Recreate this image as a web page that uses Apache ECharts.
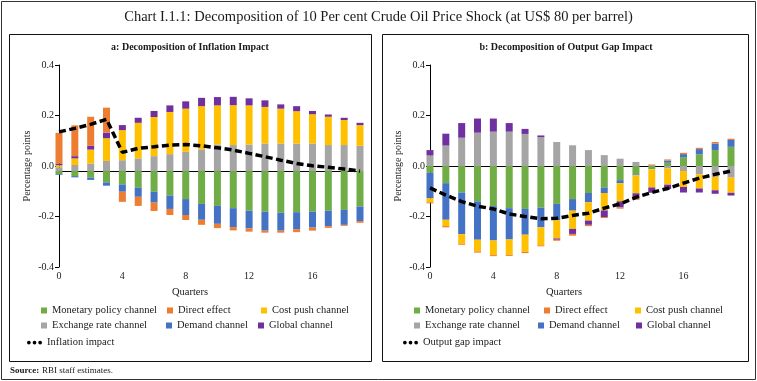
<!DOCTYPE html>
<html>
<head>
<meta charset="utf-8">
<script src="https://cdn.jsdelivr.net/npm/echarts@6/dist/echarts.min.js"></script>
<style>
html,body{margin:0;padding:0;background:#fff;}
#c{width:757px;height:381px;}
</style>
</head>
<body>
<div id="c"></div>
<script>
// ---------- DATA ----------
const quarters = ['0','1','2','3','4','5','6','7','8','9','10','11','12','13','14','15','16','17','18','19'];
const yTickValues = [-0.4, -0.2, 0.0, 0.2, 0.4];

// Panel a: inflation impact decomposition (percentage points)
const infMonetary = [-0.012,-0.02,-0.026,-0.045,-0.053,-0.066,-0.082,-0.097,-0.111,-0.13,-0.138,-0.147,-0.157,-0.161,-0.165,-0.163,-0.161,-0.157,-0.154,-0.141];
const infExchange = [0.015,0.024,0.03,0.04,0.043,0.05,0.059,0.067,0.076,0.086,0.105,0.103,0.105,0.109,0.109,0.109,0.109,0.103,0.103,0.1];
const infDemand   = [-0.003,-0.005,-0.009,-0.013,-0.029,-0.036,-0.043,-0.053,-0.063,-0.063,-0.071,-0.075,-0.07,-0.075,-0.071,-0.067,-0.063,-0.061,-0.059,-0.057];
const infCostPush = [0.008,0.026,0.055,0.09,0.119,0.141,0.155,0.167,0.171,0.171,0.155,0.158,0.155,0.145,0.138,0.128,0.116,0.112,0.099,0.082];
const infGlobal   = [0.007,0.009,0.015,0.022,0.02,0.02,0.024,0.026,0.029,0.033,0.033,0.033,0.028,0.026,0.017,0.02,0.013,0.009,0.009,0.009];
const infDirect   = [0.121,0.122,0.115,0.099,-0.04,-0.036,-0.033,-0.024,-0.02,-0.02,-0.017,-0.013,-0.013,-0.008,-0.008,-0.012,-0.012,-0.007,-0.004,-0.007];
const infTotal    = [0.155,0.169,0.185,0.205,0.074,0.09,0.096,0.103,0.105,0.1,0.092,0.083,0.07,0.057,0.043,0.03,0.021,0.015,0.008,0.0];

// Panel b: output gap impact decomposition (percentage points)
const gapMonetary = [-0.026,-0.068,-0.105,-0.14,-0.159,-0.167,-0.17,-0.165,-0.15,-0.131,-0.107,-0.085,-0.056,-0.033,-0.012,0.013,0.035,0.046,0.063,0.076];
const gapExchange = [0.042,0.081,0.112,0.132,0.136,0.136,0.127,0.114,0.095,0.082,0.063,0.043,0.029,0.016,-0.002,-0.01,-0.02,-0.033,-0.043,-0.046];
const gapDemand   = [-0.102,-0.145,-0.165,-0.152,-0.136,-0.124,-0.102,-0.078,-0.065,-0.046,-0.037,-0.022,-0.012,-0.004,0.002,0.008,0.012,0.021,0.026,0.027];
const gapCostPush = [-0.016,-0.025,-0.038,-0.046,-0.058,-0.061,-0.068,-0.071,-0.072,-0.072,-0.072,-0.069,-0.072,-0.071,-0.071,-0.064,-0.063,-0.056,-0.053,-0.06];
const gapGlobal   = [0.021,0.047,0.058,0.056,0.052,0.034,0.02,0.007,-0.005,-0.02,-0.017,-0.026,-0.024,-0.021,-0.021,-0.017,-0.022,-0.016,-0.014,-0.011];
const gapDirect   = [-0.004,-0.005,-0.004,-0.005,-0.004,-0.004,-0.005,-0.004,-0.004,-0.007,-0.005,-0.004,-0.005,-0.005,0.004,0.005,0.005,0.005,0.006,0.005];
const gapTotal    = [-0.087,-0.115,-0.141,-0.159,-0.17,-0.19,-0.2,-0.209,-0.207,-0.196,-0.187,-0.167,-0.15,-0.124,-0.105,-0.089,-0.068,-0.048,-0.033,-0.02];

const names = {
  monetary: 'Monetary policy channel',
  direct: 'Direct effect',
  cost: 'Cost push channel',
  exchange: 'Exchange rate channel',
  demand: 'Demand channel',
  global: 'Global channel'
};
const colors = {
  monetary: '#70AD47', direct: '#ED7D31', cost: '#FFC000',
  exchange: '#A5A5A5', demand: '#4472C4', global: '#7030A0'
};

// ---------- CHART ----------
const FONT = '"Liberation Serif", "DejaVu Serif", serif';
const chart = echarts.init(document.getElementById('c'), null, {renderer: 'canvas'});

function bars(stack, xi, yi, m, e, d, c, g, dr) {
  const mk = (key, data) => ({
    name: names[key], type: 'bar', stack: stack, xAxisIndex: xi, yAxisIndex: yi,
    data: data, barWidth: 7, itemStyle: {color: colors[key]}, clip: true,
    emphasis: {disabled: true}
  });
  return [mk('monetary', m), mk('exchange', e), mk('demand', d), mk('cost', c), mk('global', g), mk('direct', dr)];
}
function line(name, xi, yi, data) {
  return {
    name: name, type: 'line', xAxisIndex: xi, yAxisIndex: yi, data: data,
    symbol: 'none', smooth: false, z: 5, itemStyle: {color: '#000'},
    lineStyle: {color: '#000', width: 3.5, type: [7, 3.5], cap: 'butt'}
  };
}

const yVisible = (grid) => ({
  type: 'value', gridIndex: grid, min: -0.4, max: 0.4, interval: 0.2,
  name: 'Percentage points', nameLocation: 'middle', nameGap: 27, nameRotate: 90,
  nameTextStyle: {fontFamily: FONT, fontSize: 10, color: '#222'},
  axisLine: {show: true, lineStyle: {color: '#000', width: 1}},
  axisTick: {show: true, length: 4, lineStyle: {color: '#000'}},
  axisLabel: {fontFamily: FONT, fontSize: 10, color: '#222', margin: 5,
    formatter: v => yTickValues.some(t => Math.abs(t - v) < 1e-9) ? v.toFixed(1) : ''},
  splitLine: {show: false}
});
const xLine = (grid, yIdx) => ({
  type: 'category', gridIndex: grid, data: quarters, boundaryGap: false,
  axisLine: {show: true, onZero: true, onZeroAxisIndex: yIdx, lineStyle: {color: '#000', width: 1}},
  axisTick: {show: true, interval: 3, length: 4, inside: false, lineStyle: {color: '#000'}},
  axisLabel: {show: false}, splitLine: {show: false}
});
const xLabels = (grid) => ({
  type: 'category', gridIndex: grid, data: quarters, boundaryGap: false, position: 'bottom',
  axisLine: {show: false, onZero: false}, axisTick: {show: false},
  axisLabel: {show: true, interval: 3, fontFamily: FONT, fontSize: 10, color: '#222', margin: 4},
  splitLine: {show: false}
});

function legendItem(name, left, top, isLine) {
  const l = {
    left: left, top: top, orient: 'horizontal', padding: 0, itemGap: 0,
    itemWidth: isLine ? 15 : 6, itemHeight: isLine ? 4 : 6,
    textStyle: {fontFamily: FONT, fontSize: 10.5, color: '#222'},
    selectedMode: false,
    data: [isLine ? {name: name, icon: 'path://M2,0A2,2 0 1,1 2,4A2,2 0 1,1 2,0Z M8,0A2,2 0 1,1 8,4A2,2 0 1,1 8,0Z M14,0A2,2 0 1,1 14,4A2,2 0 1,1 14,0Z', itemStyle: {color: '#000'}} : {name: name, icon: 'rect'}]
  };
  return l;
}
const LB = 9, RB = 382;
const row1 = 305, row2 = 320, row3 = 336;
const legends = [
  legendItem(names.monetary, LB + 32, row1), legendItem(names.direct, LB + 158, row1), legendItem(names.cost, LB + 252, row1),
  legendItem(names.exchange, LB + 32, row2), legendItem(names.demand, LB + 157, row2), legendItem(names.global, LB + 249, row2),
  legendItem('Inflation impact', LB + 18, row3 + 1, true),
  legendItem(names.monetary, RB + 32, row1), legendItem(names.direct, RB + 162, row1), legendItem(names.cost, RB + 253, row1),
  legendItem(names.exchange, RB + 32, row2), legendItem(names.demand, RB + 156, row2), legendItem(names.global, RB + 254, row2),
  legendItem('Output gap impact', RB + 21, row3 + 1, true)
];

const txt = (text, x, y, size, weight, align) => ({
  type: 'text', silent: true, x: x, y: y,
  style: {text: text, fontFamily: FONT, fontSize: size, fontWeight: weight || 'normal',
    fill: '#1a1a1a', textAlign: align || 'center', textVerticalAlign: 'middle'}
});

const option = {
  animation: false,
  backgroundColor: '#fff',
  grid: [
    {left: 59, top: 65, width: 301, height: 202, containLabel: false},
    {left: 430, top: 65, width: 301, height: 202, containLabel: false}
  ],
  xAxis: [xLine(0, 1), xLabels(0), xLine(1, 2), xLabels(1)],
  yAxis: [
    yVisible(0),
    {type: 'value', gridIndex: 0, min: -0.38, max: 0.42, show: false},
    yVisible(1)
  ],
  legend: legends,
  series: [
    ...bars('inf', 0, 1, infMonetary, infExchange, infDemand, infCostPush, infGlobal, infDirect),
    line('Inflation impact', 0, 1, infTotal),
    ...bars('gap', 2, 2, gapMonetary, gapExchange, gapDemand, gapCostPush, gapGlobal, gapDirect),
    line('Output gap impact', 2, 2, gapTotal)
  ],
  graphic: [
    {type: 'rect', silent: true, shape: {x: 1.5, y: 1.5, width: 754, height: 378}, style: {fill: 'none', stroke: '#333', lineWidth: 1}},
    {type: 'rect', silent: true, shape: {x: 9.5, y: 34.5, width: 362, height: 327}, style: {fill: 'none', stroke: '#111', lineWidth: 1}},
    {type: 'rect', silent: true, shape: {x: 382.5, y: 34.5, width: 366, height: 327}, style: {fill: 'none', stroke: '#111', lineWidth: 1}},
    txt('Chart I.1.1: Decomposition of 10 Per cent Crude Oil Price Shock (at US$ 80 per barrel)', 378.5, 17, 14.5),
    txt('a: Decomposition of Inflation Impact', 190, 47, 10, 'bold'),
    txt('b: Decomposition of Output Gap Impact', 566, 47, 10, 'bold'),
    txt('Quarters', 190, 292, 10.5),
    txt('Quarters', 564, 292, 10.5),
    txt('Source:', 10, 371, 9, 'bold', 'left'),
    txt('RBI staff estimates.', 42, 371, 9, 'normal', 'left')
  ]
};
chart.setOption(option);
</script>
</body>
</html>
